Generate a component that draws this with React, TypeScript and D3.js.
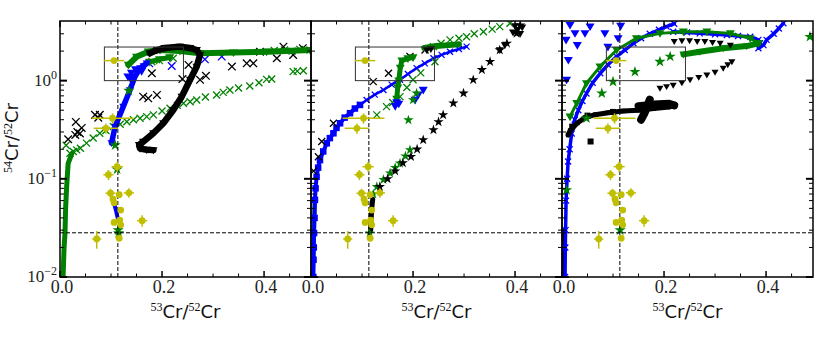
import React from 'react';
import * as d3 from 'd3';

type P = [number, number];

// axis limits and reference lines (solar values)
const X_MAX = 0.492;
const Y_MIN = 0.01;
const Y_MAX = 4.05;
const SOLAR_X = 0.1134;
const SOLAR_Y = 0.0282;
const BOX = { x0: 0.087, x1: 0.242, y0: 1.0, y1: 2.2 };

const X_MAJOR = [0, 0.2, 0.4];
const X_MINOR = [0.05, 0.1, 0.15, 0.25, 0.3, 0.35, 0.45];
const Y_MAJOR = [0.01, 0.1, 1];
const Y_MINOR = [0.02, 0.03, 0.04, 0.05, 0.06, 0.07, 0.08, 0.09, 0.2, 0.3, 0.4, 0.5, 0.6, 0.7, 0.8, 0.9, 2, 3];
const Y_LABELS = ['\u22122', '\u22121', '0'];
const X_LABELS = ['0.0', '0.2', '0.4'];

// presolar grain data [x, y, xerr, yerr]
const grains: [number, number, number, number][] = [
  [0.106, 1.6, 0.02, 0],
  [0.103, 0.414, 0.041, 0.05],
  [0.09, 0.327, 0.024, 0.04],
  [0.112, 0.133, 0.011, 0.016],
  [0.095, 0.11, 0.01, 0.013],
  [0.099, 0.0713, 0.01, 0.008],
  [0.116, 0.069, 0, 0],
  [0.135, 0.072, 0.01, 0.008],
  [0.104, 0.062, 0, 0],
  [0.106, 0.057, 0, 0],
  [0.119, 0.048, 0, 0],
  [0.106, 0.036, 0, 0],
  [0.117, 0.038, 0, 0],
  [0.119, 0.034, 0, 0],
  [0.161, 0.0375, 0.01, 0.005],
  [0.072, 0.0244, 0.009, 0.005],
  [0.116, 0.0248, 0, 0],
];

// ---- panel 1
const p1GreenLeft: P[] = [[0.006, 0.01], [0.008, 0.02], [0.0098, 0.028], [0.011, 0.05], [0.013, 0.083], [0.016, 0.144], [0.023, 0.18]];
const p1GreenX: P[] = [[0.012, 0.22], [0.0196, 0.182], [0.026, 0.19], [0.0327, 0.197], [0.04, 0.205], [0.052, 0.231], [0.065, 0.26], [0.078, 0.291], [0.09, 0.31], [0.1046, 0.34], [0.118, 0.36], [0.131, 0.382], [0.144, 0.4], [0.157, 0.414], [0.17, 0.43], [0.183, 0.448], [0.2, 0.49], [0.2157, 0.524], [0.23, 0.56], [0.242, 0.589], [0.255, 0.61], [0.268, 0.636], [0.285, 0.68], [0.307, 0.715], [0.32, 0.76], [0.333, 0.804], [0.35, 0.84], [0.372, 0.883], [0.39, 0.95], [0.405, 1.03], [0.415, 1.04], [0.457, 1.235], [0.465, 1.25], [0.477, 1.26], [0.42, 2.03], [0.44, 2.05], [0.455, 2.0], [0.47, 2.08], [0.49, 2.05], [0.18, 1.56], [0.195, 1.6], [0.222, 1.69]];
const p1BlackX: P[] = [[0.016, 0.253], [0.03, 0.28], [0.031, 0.38], [0.034, 0.3], [0.039, 0.29], [0.0425, 0.33], [0.0686, 0.448], [0.078, 0.448], [0.075, 0.42], [0.163, 0.687], [0.173, 0.66], [0.19, 0.715], [0.18, 1.19], [0.24, 1.04], [0.2745, 1.02], [0.286, 1.12], [0.252, 1.445], [0.337, 1.39], [0.366, 1.5], [0.379, 1.5], [0.425, 1.69], [0.457, 1.83], [0.392, 1.97], [0.438, 2.22], [0.476, 2.14]];
const p1BlueX: P[] = [[0.219, 1.41], [0.284, 1.65], [0.317, 1.76], [0.175, 1.5]];
const p1GreenBand: P[] = [[0.134, 1.445], [0.15, 1.75], [0.173, 1.97], [0.196, 2.05], [0.235, 2.0], [0.2745, 1.9], [0.34, 1.93], [0.405, 1.97], [0.49, 2.05]];
const p1GreenBand2: P[] = [[0.176, 1.55], [0.195, 1.65], [0.215, 1.72]];
const p1BlackBand: P[] = [[0.176, 1.9], [0.19, 2.05], [0.205, 2.15], [0.235, 2.22], [0.255, 2.15], [0.268, 2.05], [0.2745, 1.83], [0.268, 1.39], [0.255, 1.02], [0.2386, 0.687], [0.222, 0.503], [0.2025, 0.368], [0.183, 0.291], [0.163, 0.239], [0.155, 0.221], [0.157, 0.203], [0.17, 0.198], [0.183, 0.196]];
const p1BlueBand: P[] = [[0.101, 0.231], [0.108, 0.34], [0.124, 0.544], [0.137, 0.8], [0.147, 1.1], [0.157, 1.34], [0.17, 1.5]];
const p1BlueHead: P[] = [[0.133, 1.1], [0.14, 1.2], [0.148, 1.3], [0.16, 1.25], [0.165, 1.4], [0.138, 1.05]];
const p1BlueLow: P[] = [[0.106, 0.056], [0.11, 0.047], [0.113, 0.04]];
const p1GreenStar: P[] = [[0.135, 0.79], [0.108, 0.22], [0.112, 0.125], [0.114, 0.03], [0.115, 0.028]];

// ---- panel 2
const p2GreenLeft: P[] = [[0.004, 0.01], [0.005, 0.02], [0.006, 0.04], [0.007, 0.06]];
const p2BlueSq: P[] = [[0.0046, 0.01], [0.005, 0.015], [0.0055, 0.02], [0.006, 0.028], [0.007, 0.04], [0.0078, 0.061], [0.009, 0.08], [0.011, 0.105], [0.014, 0.13], [0.0176, 0.155], [0.024, 0.19], [0.031, 0.23], [0.037, 0.26], [0.044, 0.291], [0.05, 0.33], [0.057, 0.368], [0.066, 0.42], [0.0765, 0.466], [0.086, 0.52], [0.096, 0.566]];
const p2BlueX: P[] = [[0.096, 0.566], [0.109, 0.636], [0.125, 0.72], [0.142, 0.804], [0.158, 0.91], [0.1745, 1.02], [0.19, 1.17], [0.207, 1.34], [0.223, 1.5], [0.24, 1.69], [0.256, 1.83], [0.2725, 1.97], [0.29, 2.1], [0.305, 2.22]];
const p2BlackX: P[] = [[0.0144, 0.168], [0.021, 0.24], [0.044, 0.368], [0.122, 0.977], [0.152, 1.19], [0.194, 1.76], [0.2235, 2.05], [0.005, 0.12]];
const p2GreenX: P[] = [[0.129, 0.448], [0.148, 0.544], [0.16, 0.6], [0.1745, 0.687], [0.188, 0.85], [0.2, 1.02], [0.215, 1.2], [0.243, 1.56], [0.24, 2.22], [0.255, 2.4], [0.2725, 2.6], [0.29, 2.7], [0.305, 2.8], [0.32, 3.0], [0.338, 3.15], [0.355, 3.35], [0.37, 3.55], [0.39, 3.84]];
const p2GreenBand: P[] = [[0.222, 2.15], [0.245, 2.25], [0.27, 2.3], [0.29, 2.35]];
const p2GreenV: P[] = [[0.168, 0.65], [0.17, 0.85], [0.172, 1.0], [0.175, 1.35], [0.178, 1.6], [0.19, 1.68], [0.2, 1.72]];
const p2BlueV: P[] = [[0.165, 0.55], [0.168, 0.6], [0.172, 0.58], [0.204, 0.636], [0.21, 0.715], [0.22, 0.804]];
const p2BlackBand: P[] = [[0.117, 0.03], [0.118, 0.04], [0.119, 0.05], [0.121, 0.062]];
const p2BlackStar: P[] = [[0.135, 0.083], [0.15, 0.1], [0.165, 0.12], [0.18, 0.145], [0.196, 0.168], [0.208, 0.2], [0.22, 0.249], [0.24, 0.315], [0.25, 0.38], [0.259, 0.448], [0.279, 0.589], [0.299, 0.744], [0.318, 1.02], [0.335, 1.29], [0.351, 1.56], [0.37, 2.05], [0.384, 2.4], [0.403, 3.03], [0.41, 3.68]];
const p2GreenStar: P[] = [[0.115, 0.028], [0.122, 0.07], [0.129, 0.083], [0.142, 0.098], [0.155, 0.114], [0.165, 0.13], [0.1745, 0.144], [0.185, 0.17], [0.194, 0.197], [0.191, 0.397], [0.207, 0.744], [0.2, 0.636]];
const p2BlackV: P[] = [[0.227, 2.05], [0.235, 2.1], [0.37, 2.05], [0.38, 2.3], [0.396, 3.1], [0.405, 3.3], [0.414, 3.5], [0.41, 3.0], [0.4, 3.6]];

// ---- panel 3
const p3BlackLeft: P[] = [[0.003, 0.01], [0.004, 0.02], [0.005, 0.03]];
const p3BlueV: P[] = [[0.0157, 3.68], [0.0255, 3.03], [0.045, 3.03], [0.055, 3.55], [0.0124, 1.62], [0.009, 1.02], [0.084, 3.03], [0.11, 2.7], [0.03, 2.3], [0.008, 2.6], [0.115, 3.6], [0.09, 2.2]];
const p3BlueX: P[] = [[0.006, 0.01], [0.0065, 0.02], [0.007, 0.03], [0.008, 0.06], [0.01, 0.1], [0.012, 0.15], [0.015, 0.2], [0.019, 0.29], [0.025, 0.4], [0.032, 0.5], [0.04, 0.62], [0.048, 0.74], [0.06, 0.95], [0.075, 1.19], [0.09, 1.45], [0.107, 1.76], [0.123, 2.05], [0.14, 2.4], [0.155, 2.7], [0.172, 3.0], [0.19, 3.3], [0.205, 3.55], [0.22, 3.8]];
const p3BlueX2: P[] = [[0.218, 3.15], [0.245, 3.1], [0.27, 3.03], [0.3, 2.97], [0.323, 2.92], [0.345, 2.85], [0.369, 2.8], [0.385, 2.6], [0.388, 2.4], [0.385, 2.14], [0.395, 2.3], [0.401, 2.6], [0.415, 3.0], [0.425, 3.4], [0.434, 3.84]];
const p3GreenV: P[] = [[0.0157, 0.43], [0.029, 0.59], [0.048, 0.94], [0.0745, 1.39], [0.107, 2.05], [0.146, 2.7], [0.192, 3.03], [0.238, 3.15], [0.284, 3.15], [0.33, 3.03], [0.369, 2.7], [0.385, 2.4]];
const p3GreenBand: P[] = [[0.238, 1.85], [0.27, 1.97], [0.316, 2.14], [0.362, 2.25], [0.385, 2.4]];
const p3BlackV: P[] = [[0.192, 0.837], [0.205, 0.87], [0.218, 0.9], [0.235, 0.95], [0.251, 1.02], [0.268, 1.08], [0.284, 1.14], [0.3, 1.22], [0.316, 1.34], [0.325, 1.45], [0.333, 1.56], [0.22, 2.5], [0.235, 2.55], [0.25, 2.55], [0.265, 2.5], [0.28, 2.5], [0.295, 2.45], [0.31, 2.4], [0.33, 2.3]];
const p3BlackSqBand: P[] = [[0.012, 0.28], [0.016, 0.31], [0.03, 0.37], [0.045, 0.42], [0.065, 0.45], [0.09, 0.47], [0.12, 0.49], [0.15, 0.5], [0.18, 0.52], [0.21, 0.54]];
const p3BlackBlob1: P[] = [[0.155, 0.4], [0.162, 0.47], [0.168, 0.56], [0.172, 0.64]];
const p3BlackBlob2: P[] = [[0.15, 0.55], [0.18, 0.57], [0.21, 0.58], [0.22, 0.56]];
const p3BlackSq: P[] = [[0.056, 0.24], [0.02, 0.34], [0.05, 0.44], [0.1, 0.48]];
const p3GreenStar: P[] = [[0.143, 1.23], [0.1, 0.977], [0.078, 0.744], [0.192, 1.56], [0.212, 1.76], [0.486, 2.8], [0.048, 0.414], [0.009, 0.077], [0.114, 0.03]];

const GREEN = '#008000';
const BLUE = '#0000ff';
const BLACK = '#000000';
const YELLOW = '#bfbf00';

type Kind = 'x' | 'v' | 'star' | 'square' | 'none';
interface Series { panel: number; data: P[]; kind: Kind; color: string; size: number; band?: number }

const SERIES: Series[] = [
  { panel: 0, data: p1GreenLeft, kind: 'none', color: GREEN, size: 0, band: 5 },
  { panel: 0, data: p1GreenX, kind: 'x', color: GREEN, size: 3.5 },
  { panel: 0, data: p1BlackX, kind: 'x', color: BLACK, size: 3.8 },
  { panel: 0, data: p1BlueX, kind: 'x', color: BLUE, size: 3.8 },
  { panel: 0, data: p1GreenBand, kind: 'v', color: GREEN, size: 4.5, band: 6 },
  { panel: 0, data: p1GreenBand2, kind: 'v', color: GREEN, size: 4.5, band: 5 },
  { panel: 0, data: p1BlackBand, kind: 'v', color: BLACK, size: 4.2, band: 6.5 },
  { panel: 0, data: p1BlueBand, kind: 'v', color: BLUE, size: 4, band: 5.5 },
  { panel: 0, data: p1BlueHead, kind: 'v', color: BLUE, size: 4.5 },
  { panel: 0, data: p1BlueLow, kind: 'none', color: BLUE, size: 0, band: 4 },
  { panel: 0, data: p1GreenStar, kind: 'star', color: GREEN, size: 3.5 },

  { panel: 1, data: p2GreenLeft, kind: 'none', color: GREEN, size: 0, band: 4 },
  { panel: 1, data: p2BlueSq, kind: 'square', color: BLUE, size: 6.5, band: 4 },
  { panel: 1, data: p2BlueX, kind: 'x', color: BLUE, size: 3, band: 2.5 },
  { panel: 1, data: p2BlackX, kind: 'x', color: BLACK, size: 3.5 },
  { panel: 1, data: p2GreenX, kind: 'x', color: GREEN, size: 3.5 },
  { panel: 1, data: p2GreenBand, kind: 'none', color: GREEN, size: 0, band: 6 },
  { panel: 1, data: p2GreenV, kind: 'v', color: GREEN, size: 4.5, band: 5 },
  { panel: 1, data: p2BlueV, kind: 'v', color: BLUE, size: 4.5 },
  { panel: 1, data: p2BlackBand, kind: 'none', color: BLACK, size: 0, band: 5 },
  { panel: 1, data: p2GreenStar, kind: 'star', color: GREEN, size: 3.2 },
  { panel: 1, data: p2BlackStar, kind: 'star', color: BLACK, size: 3.2 },
  { panel: 1, data: p2BlackV, kind: 'v', color: BLACK, size: 4 },

  { panel: 2, data: p3BlackLeft, kind: 'none', color: BLACK, size: 0, band: 4 },
  { panel: 2, data: p3BlueV, kind: 'v', color: BLUE, size: 4.5 },
  { panel: 2, data: p3BlueX, kind: 'x', color: BLUE, size: 3, band: 3.5 },
  { panel: 2, data: p3BlueX2, kind: 'x', color: BLUE, size: 3, band: 3.5 },
  { panel: 2, data: p3GreenV, kind: 'v', color: GREEN, size: 4.5, band: 3 },
  { panel: 2, data: p3GreenBand, kind: 'v', color: GREEN, size: 4, band: 6 },
  { panel: 2, data: p3BlackV, kind: 'v', color: BLACK, size: 3.5 },
  { panel: 2, data: p3BlackSqBand, kind: 'square', color: BLACK, size: 4.5, band: 5 },
  { panel: 2, data: p3BlackBlob1, kind: 'none', color: BLACK, size: 0, band: 8 },
  { panel: 2, data: p3BlackBlob2, kind: 'none', color: BLACK, size: 0, band: 8 },
  { panel: 2, data: p3BlackSq, kind: 'square', color: BLACK, size: 6 },
  { panel: 2, data: p3GreenStar, kind: 'star', color: GREEN, size: 3.5 },
];

const W = 251;
const H = 256;
const TOP = 21;
const PANEL_LEFT = [60, 311, 562];
const SERIF = '"Liberation Serif", "DejaVu Serif", serif';
const SANS = '"DejaVu Sans", sans-serif';

const x = d3.scaleLinear().domain([0, X_MAX]).range([0, W]);
const y = d3.scaleLog().domain([Y_MIN, Y_MAX]).range([H, 0]);
const line = d3.line<P>().x(d => x(d[0])).y(d => y(d[1]));
const starPath = (s: number) => d3.symbol().type(d3.symbolStar).size(s * s * 3.2)() as string;

function Marker({ kind, cx, cy, s, color }: { kind: Kind; cx: number; cy: number; s: number; color: string }) {
  if (kind === 'x') {
    return <path d={`M${cx - s},${cy - s}L${cx + s},${cy + s}M${cx - s},${cy + s}L${cx + s},${cy - s}`} stroke={color} strokeWidth={1.3} fill="none" />;
  }
  if (kind === 'v') {
    return <path d={`M${cx - s},${cy - s * 0.7}L${cx + s},${cy - s * 0.7}L${cx},${cy + s}Z`} fill={color} />;
  }
  if (kind === 'star') {
    return <path d={starPath(s)} transform={`translate(${cx},${cy})`} fill={color} />;
  }
  if (kind === 'square') {
    return <rect x={cx - s / 2} y={cy - s / 2} width={s} height={s} fill={color} />;
  }
  return null;
}

function Panel({ index }: { index: number }) {
  const left = PANEL_LEFT[index];
  const series = SERIES.filter(s => s.panel === index);
  return (
    <g transform={`translate(${left},${TOP})`}>
      <defs>
        <clipPath id={`clip${index}`}><rect x={0} y={0} width={W} height={H} /></clipPath>
      </defs>
      <g clipPath={`url(#clip${index})`}>
        {series.map((s, i) => (
          <g key={i}>
            {s.band ? <path d={line(s.data) as string} fill="none" stroke={s.color} strokeWidth={s.band} strokeLinejoin="round" strokeLinecap="round" /> : null}
            {s.data.map((d, j) => <Marker key={j} kind={s.kind} cx={x(d[0])} cy={y(d[1])} s={s.size} color={s.color} />)}
          </g>
        ))}
        <line x1={x(SOLAR_X)} x2={x(SOLAR_X)} y1={0} y2={H} stroke="#000" strokeWidth={1} strokeDasharray="4,2" />
        <line x1={0} x2={W} y1={y(SOLAR_Y)} y2={y(SOLAR_Y)} stroke="#000" strokeWidth={1} strokeDasharray="4,2" />
        <rect x={x(BOX.x0)} y={y(BOX.y1)} width={x(BOX.x1) - x(BOX.x0)} height={y(BOX.y0) - y(BOX.y1)} fill="none" stroke="#333" strokeWidth={1} />
        {grains.map((g, i) => (
          <g key={i} stroke={YELLOW} strokeWidth={1.5}>
            {g[2] > 0 && <line x1={x(g[0] - g[2])} x2={x(g[0] + g[2])} y1={y(g[1])} y2={y(g[1])} />}
            {g[3] > 0 && <line x1={x(g[0])} x2={x(g[0])} y1={y(g[1] - g[3])} y2={y(g[1] + g[3])} />}
            <circle cx={x(g[0])} cy={y(g[1])} r={3.4} fill={YELLOW} stroke="none" />
          </g>
        ))}
      </g>
      {/* ticks, inward on all sides */}
      <g stroke="#000">
        {X_MAJOR.map(t => (
          <g key={`xM${t}`} strokeWidth={1.5}>
            <line x1={x(t)} x2={x(t)} y1={H} y2={H - 6} />
            <line x1={x(t)} x2={x(t)} y1={0} y2={6} />
          </g>
        ))}
        {X_MINOR.map(t => (
          <g key={`xm${t}`} strokeWidth={1}>
            <line x1={x(t)} x2={x(t)} y1={H} y2={H - 3.5} />
            <line x1={x(t)} x2={x(t)} y1={0} y2={3.5} />
          </g>
        ))}
        {Y_MAJOR.map(t => (
          <g key={`yM${t}`} strokeWidth={2}>
            <line x1={0} x2={7} y1={y(t)} y2={y(t)} />
            <line x1={W} x2={W - 7} y1={y(t)} y2={y(t)} />
          </g>
        ))}
        {Y_MINOR.map(t => (
          <g key={`ym${t}`} strokeWidth={1}>
            <line x1={0} x2={4} y1={y(t)} y2={y(t)} />
            <line x1={W} x2={W - 4} y1={y(t)} y2={y(t)} />
          </g>
        ))}
      </g>
      <rect x={0} y={0} width={W} height={H} fill="none" stroke="#000" strokeWidth={1.5} />
      {X_MAJOR.map((t, i) => (
        <text key={`xl${t}`} x={x(t) + 2} y={H + 16} textAnchor="middle" fontFamily={SERIF} fontSize={18} fill="#222">{X_LABELS[i]}</text>
      ))}
      {index === 0 && Y_MAJOR.map((t, i) => (
        <text key={`yl${t}`} x={-3} y={y(t) + 5} textAnchor="end" fontFamily={SERIF} fontSize={17} fill="#222">
          10<tspan fontSize={12} dy={-7}>{Y_LABELS[i]}</tspan>
        </text>
      ))}
      <text x={W / 2} y={H + 41} textAnchor="middle" fill="#111">
        <tspan fontFamily={SERIF} fontSize={12} dy={-7}>53</tspan>
        <tspan fontFamily={SANS} fontSize={18} dy={7}>Cr/</tspan>
        <tspan fontFamily={SERIF} fontSize={12} dy={-7}>52</tspan>
        <tspan fontFamily={SANS} fontSize={18} dy={7}>Cr</tspan>
      </text>
    </g>
  );
}

export default function App() {
  return (
    <svg width={830} height={346} style={{ position: 'absolute', left: 0, top: 0, background: '#fff' }}>
      {[0, 1, 2].map(i => <Panel key={i} index={i} />)}
      <text transform="translate(18,138) rotate(-90)" textAnchor="middle" fill="#111">
        <tspan fontFamily={SERIF} fontSize={12} dy={-6}>54</tspan>
        <tspan fontFamily={SANS} fontSize={18} dy={6}>Cr/</tspan>
        <tspan fontFamily={SERIF} fontSize={12} dy={-6}>52</tspan>
        <tspan fontFamily={SANS} fontSize={18} dy={6}>Cr</tspan>
      </text>
    </svg>
  );
}
